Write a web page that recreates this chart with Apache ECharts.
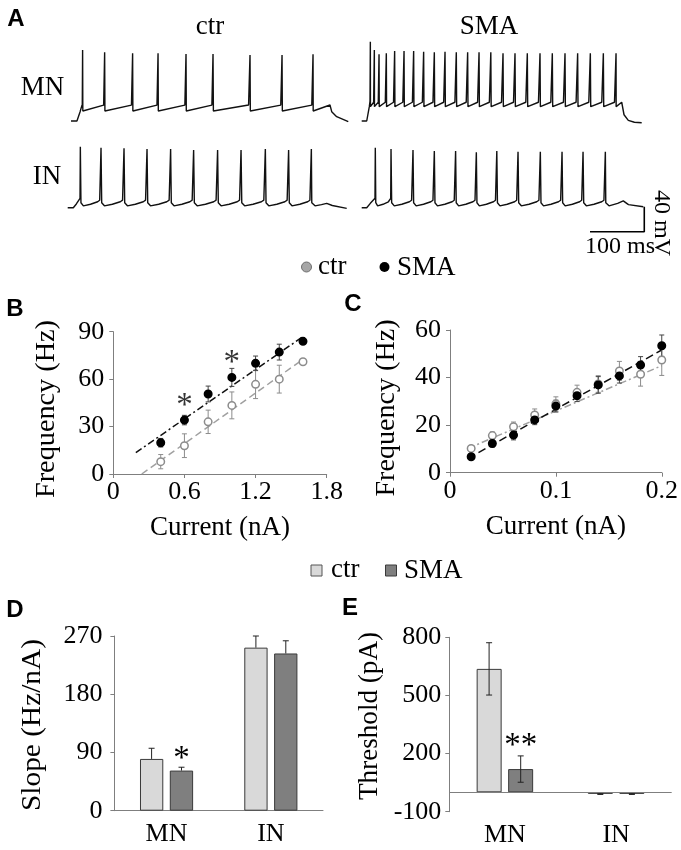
<!DOCTYPE html>
<html>
<head>
<meta charset="utf-8">
<script src="https://cdn.jsdelivr.net/npm/echarts@6/dist/echarts.min.js"></script>
<style>
html, body { margin: 0; padding: 0; background: #fff; }
#chart { width: 681px; height: 850px; }
</style>
</head>
<body>
<div id="chart"></div>
<script>
// ---- A: spike times (ms from trace start) and peak levels (mV)
var mnCtrSpikes = [20.9, 61.7, 113.5, 160.6, 212.4, 262.4, 330.9, 390.2, 447.6];
var mnCtrPeaks = [43.6, 39.9, 38.3, 38.3, 37.2, 37.2, 35.6, 35.6, 36.7];
var mnSmaSpikes = [15.4, 22.8, 31.5, 45, 60.4, 77.8, 95.6, 114.1, 133.9, 153.7, 174.6, 195.6,
                   216.7, 238.5, 261.1, 283.3, 306.1, 329.6, 352.4, 375.9, 399.3, 422.8, 446.9, 470.4];
var mnSmaPeaks = [56.9, 43.6, 36.7, 38.3, 42, 42, 42, 40.9, 39.9, 40.9, 39.9, 39.9,
                  39.9, 39.9, 38.3, 38.3, 38.3, 38.3, 38.3, 38.3, 38.3, 38.3, 38.3, 38.3];
var inCtrSpikes = [22.8, 61.1, 103.7, 146.3, 190, 232.6, 277, 320.4, 365.4, 408.5, 450.6];
var inCtrPeaks = [27.6, 26, 25, 23.9, 23.9, 22.3, 22.3, 22.3, 23.9, 22.3, 23.9];
var inSmaSpikes = [24.6, 53.7, 94.4, 133.9, 173.3, 211.7, 249.6, 288.9, 330.2, 370.4, 409.3, 450.6];
var inSmaPeaks = [26, 23.9, 22.3, 20.7, 20.7, 18.6, 20.7, 19.6, 19.6, 19.6, 19.6, 19.6];

// onset / offset pieces of each trace [ms, mV]
var mnCtrStart = [[0, -70], [11, -70], [16.7, -55.6]];
var mnCtrEnd = [[448.5, -54], [479.6, -44.4], [482.8, -55.1], [492, -63.1], [513.5, -71.1], [514.8, -71]];
var mnSmaStart = [[0, -70], [9.3, -70], [14.1, -47]];
var mnSmaEnd = [[471.2, -47], [481.5, -40], [485.8, -60], [493.7, -69], [505, -72], [518.5, -72.7]];
var inCtrStart = [[0, -70], [10.4, -70], [16, -64]];
var inCtrEnd = [[452, -62], [458, -67], [470, -65], [479.6, -63], [490, -66.5], [516.7, -71]];
var inSmaStart = [[0, -70], [9.3, -70], [16, -63]];
var inSmaEnd = [[452, -62], [458, -67], [474, -63], [484.4, -59], [494, -65], [521.5, -68.4]];

// inter-spike shape: [fraction of interval, mV]
var mnCtrShape = { pre: -43, isi: [[0.01, -54], [0.97, -44.5]] };
var mnSmaShape = { pre: -38, isi: [[0.03, -47], [0.9, -40]] };
var inShape = { pre: -55, isi: [[0.03, -62], [0.15, -67], [0.5, -64.5], [0.85, -60.5], [0.95, -58]] };

// scale bar: corner [ms, mV], 100 ms x 40 mV
var scaleBar = [[422.8, -108.4], [523.3, -108.4], [523.3, -68.4]];

// ---- B: motoneurons f-I
var bX = [0.4, 0.6, 0.8, 1.0, 1.2, 1.4, 1.6];
var bCtr = [7.8, 17.9, 33, 43.4, 56.7, 60, 71];
var bCtrErr = [4.5, 7.5, 7.4, 8.5, 9, 8.8, 0];
var bSma = [19.8, 34.1, 50.6, 61.1, 70, 77.1, 83.9];
var bSmaErr = [2.7, 3, 5, 5.7, 4.6, 5, 0];
var bFitCtr = [[0.24, 0], [1.59, 72]];
var bFitSma = [[0.19, 13.5], [1.59, 86.4]];
var bStars = [[0.6, 46.5], [1.0, 74]];

// ---- C: interneurons f-I
var cX = [0.02, 0.04, 0.06, 0.08, 0.10, 0.12, 0.14, 0.16, 0.18, 0.20];
var cCtr = [10.2, 15.6, 19.3, 24.3, 28.9, 33.8, 37.3, 42.8, 41.4, 47.4];
var cCtrErr = [1, 1.5, 2, 2.5, 3, 3, 3.5, 4, 5, 6.5];
var cSma = [6.7, 12.3, 15.8, 22.2, 28, 32.4, 36.9, 40.7, 45.3, 53.4];
var cSmaErr = [1, 1.5, 2, 2, 2.5, 2.5, 3.5, 3, 3.5, 4.5];
var cFitCtr = [[0.017, 10.2], [0.2, 45]];
var cFitSma = [[0.017, 6], [0.2, 51.6]];

// ---- D / E: bars
var cellCats = ['MN', 'IN'];
var dCtr = [80, 252];
var dCtrErr = [16.5, 18];
var dSma = [62, 243];
var dSmaErr = [5.2, 19.6];
var dStars = ['*', ''];
var eCtr = [637, -8];
var eCtrErr = [135, 3];
var eSma = [120, -8];
var eSmaErr = [68, 3];
var eStars = ['**', ''];

var serif = 'Liberation Serif';
var axisGray = '#7f7f7f';
var lightBar = '#d9d9d9';
var darkBar = '#7f7f7f';

function buildTrace(start, spikes, peaks, shape, end) {
    var pts = start.slice();
    spikes.forEach(function (t, i) {
        pts.push([t, shape.pre], [t + 0.6, peaks[i]]);
        if (i + 1 < spikes.length) {
            var gap = spikes[i + 1] - t;
            shape.isi.forEach(function (p) {
                pts.push([t + 0.6 + p[0] * (gap - 0.6), p[1]]);
            });
        }
    });
    return pts.concat(end);
}

function pairs(xs, ys) {
    return xs.map(function (x, i) { return [x, ys[i]]; });
}
function triples(xs, ys, es) {
    return xs.map(function (x, i) { return [x, ys[i], es[i]]; });
}

function errorBars(offset, cap, twoSided, color) {
    return function (params, api) {
        var e = api.value(2);
        if (!e) { return; }
        var x = api.value(0), y = api.value(1);
        var top = api.coord([x, y + e]);
        var bot = api.coord([x, twoSided ? y - e : y]);
        var cx = top[0] + offset;
        var st = { stroke: color, lineWidth: 1 };
        var kids = [
            { type: 'line', shape: { x1: cx, y1: top[1], x2: cx, y2: bot[1] }, style: st },
            { type: 'line', shape: { x1: cx - cap, y1: top[1], x2: cx + cap, y2: top[1] }, style: st }
        ];
        if (twoSided) {
            kids.push({ type: 'line', shape: { x1: cx - cap, y1: bot[1], x2: cx + cap, y2: bot[1] }, style: st });
        }
        return { type: 'group', children: kids };
    };
}

function traceAxes(n) {
    var xs = [], ys = [];
    var yRanges = [[-80, 60], [-80, 60], [-115, 60], [-115, 60]];
    for (var i = 0; i < n; i++) {
        xs.push({ gridIndex: i, type: 'value', min: 0, max: 540, show: false });
        ys.push({ gridIndex: i, type: 'value', min: yRanges[i][0], max: yRanges[i][1], show: false });
    }
    return { x: xs, y: ys };
}

function valueAxis(grid, min, max, interval, name, gap, labelMargin) {
    return {
        gridIndex: grid, type: 'value', min: min, max: max, interval: interval,
        name: name, nameLocation: 'middle', nameGap: gap,
        nameTextStyle: { fontFamily: serif, fontSize: 27, color: '#000' },
        axisLine: { show: true, onZero: false, lineStyle: { color: axisGray, width: 1 } },
        axisTick: { show: true, inside: false, length: 4, lineStyle: { color: axisGray } },
        axisLabel: { fontFamily: serif, fontSize: 26, color: '#000', margin: labelMargin },
        splitLine: { show: false }
    };
}

function catAxis(grid, showLine) {
    return {
        gridIndex: grid, type: 'category', data: cellCats,
        axisLine: { show: showLine, onZero: false, lineStyle: { color: axisGray, width: 1 } },
        axisTick: { show: false },
        axisLabel: { fontFamily: serif, fontSize: 26, color: '#000', margin: 10 },
        splitLine: { show: false }
    };
}

var ta = traceAxes(4);
var traceStyle = { color: '#111', width: 1.4 };

function traceSeries(idx, data) {
    return {
        type: 'line', xAxisIndex: idx, yAxisIndex: idx, data: data,
        symbol: 'none', clip: false, silent: true, lineStyle: traceStyle, z: 2
    };
}

function fitLine(axis, data, color, dash) {
    return {
        type: 'line', xAxisIndex: axis, yAxisIndex: axis, data: data, symbol: 'none', silent: true,
        lineStyle: { color: color, width: 1.5, type: dash }, z: 2
    };
}

function dots(axis, data, fill, border) {
    return {
        type: 'scatter', xAxisIndex: axis, yAxisIndex: axis, data: data, symbol: 'circle', symbolSize: 7.5,
        itemStyle: { color: fill, borderColor: border, borderWidth: 1.5, opacity: 1 }, z: 5, silent: true
    };
}

function errSeries(axis, data, offset, cap, twoSided, color) {
    return {
        type: 'custom', xAxisIndex: axis, yAxisIndex: axis, data: data, silent: true, z: 4,
        renderItem: errorBars(offset, cap, twoSided, color)
    };
}

function barSeries(axis, values, color, width, gap, stars, starGap) {
    return {
        type: 'bar', xAxisIndex: axis, yAxisIndex: axis, barWidth: width, barGap: gap, silent: true, z: 3,
        itemStyle: { color: color, borderColor: '#3a3a3a', borderWidth: 1 },
        data: values.map(function (v, i) {
            var item = { value: v };
            if (stars && stars[i]) {
                item.label = {
                    show: true, position: 'top', distance: starGap, formatter: stars[i],
                    fontFamily: serif, fontSize: 33, color: '#000'
                };
            }
            return item;
        })
    };
}

var fLbl = '27px "Liberation Serif"';
var fPanel = 'bold 24px "Liberation Sans"';
var measureCtx = document.createElement('canvas').getContext('2d');

function txt(x, y, text, font, align, rot) {
    return {
        type: 'text', x: x, y: y, rotation: rot || 0, silent: true,
        style: { text: text, font: font, fill: '#000', textAlign: align || 'center', textVerticalAlign: 'middle' }
    };
}
// rotated y-axis title stretched to the length it has in the figure
function yTitle(x, y, text, len) {
    measureCtx.font = fLbl;
    var el = txt(x, y, text, fLbl, 'center', Math.PI / 2);
    el.scaleX = len / measureCtx.measureText(text).width;
    return el;
}

var option = {
    animation: false,
    backgroundColor: '#fff',
    textStyle: { fontFamily: serif },
    grid: [
        { left: 71, top: 39.75, width: 291.6, height: 87.5 },
        { left: 361.7, top: 39.75, width: 291.6, height: 87.5 },
        { left: 67.7, top: 126.45, width: 291.6, height: 109.375 },
        { left: 361.7, top: 126.45, width: 291.6, height: 109.375 },
        { left: 113.3, top: 331.7, width: 213.4, height: 142.3 },
        { left: 450, top: 330, width: 214, height: 142.7 },
        { left: 114.4, top: 636, width: 208.6, height: 174.7 },
        { left: 449.3, top: 637.3, width: 222.4, height: 174.4 }
    ],
    xAxis: ta.x.concat([
        valueAxis(4, 0, 1.8, 0.6, 'Current (nA)', 40, 5),
        valueAxis(5, 0, 0.2, 0.1, 'Current (nA)', 41, 5),
        catAxis(6, true),
        catAxis(7, false)
    ]),
    yAxis: ta.y.concat([
        valueAxis(4, 0, 90, 30, '', 0, 9),
        valueAxis(5, 0, 60, 20, '', 0, 9),
        valueAxis(6, 0, 270, 90, '', 0, 12),
        valueAxis(7, -100, 800, 300, '', 0, 8)
    ]),
    series: [
        traceSeries(0, buildTrace(mnCtrStart, mnCtrSpikes, mnCtrPeaks, mnCtrShape, mnCtrEnd)),
        traceSeries(1, buildTrace(mnSmaStart, mnSmaSpikes, mnSmaPeaks, mnSmaShape, mnSmaEnd)),
        traceSeries(2, buildTrace(inCtrStart, inCtrSpikes, inCtrPeaks, inShape, inCtrEnd)),
        traceSeries(3, buildTrace(inSmaStart, inSmaSpikes, inSmaPeaks, inShape, inSmaEnd)),
        {
            type: 'line', xAxisIndex: 3, yAxisIndex: 3, data: scaleBar, symbol: 'none', clip: false,
            silent: true, lineStyle: { color: '#000', width: 1.6 }
        },

        // B
        fitLine(4, bFitCtr, '#a0a0a0', [7, 4]),
        fitLine(4, bFitSma, '#111', [7, 3, 2, 3]),
        errSeries(4, triples(bX, bCtr, bCtrErr), 0, 2.5, true, '#8c8c8c'),
        errSeries(4, triples(bX, bSma, bSmaErr), 0, 2.5, true, '#444'),
        dots(4, pairs(bX, bCtr), '#fff', '#8c8c8c'),
        dots(4, pairs(bX, bSma), '#000', '#000'),
        {
            type: 'scatter', xAxisIndex: 4, yAxisIndex: 4, data: bStars, symbolSize: 0, silent: true,
            label: { show: true, position: 'inside', offset: [0, 6], formatter: '*', fontFamily: serif, fontSize: 33, color: '#000' }
        },

        // C
        fitLine(5, cFitCtr, '#a0a0a0', [7, 3, 2, 3]),
        fitLine(5, cFitSma, '#111', [8, 4]),
        errSeries(5, triples(cX, cCtr, cCtrErr), 0, 2.5, true, '#8c8c8c'),
        errSeries(5, triples(cX, cSma, cSmaErr), 0, 2.5, true, '#444'),
        dots(5, pairs(cX, cCtr), '#fff', '#8c8c8c'),
        dots(5, pairs(cX, cSma), '#000', '#000'),

        // D
        barSeries(6, dCtr, lightBar, 23.3, '28%'),
        barSeries(6, dSma, darkBar, 23.3, '28%', dStars, -5),
        errSeries(6, triples([0, 1], dCtr, dCtrErr), -14.95, 3, false, '#222'),
        errSeries(6, triples([0, 1], dSma, dSmaErr), 14.95, 3, false, '#222'),

        // E
        (function () {
            var s = barSeries(7, eCtr, lightBar, 25, '26%');
            s.markLine = {
                silent: true, symbol: 'none', label: { show: false },
                lineStyle: { color: axisGray, type: 'solid', width: 1 },
                data: [{ yAxis: 0 }]
            };
            return s;
        })(),
        barSeries(7, eSma, darkBar, 25, '26%', eStars, 6),
        errSeries(7, triples([0, 1], eCtr, eCtrErr), -15.8, 3, true, '#222'),
        errSeries(7, triples([0, 1], eSma, eSmaErr), 15.8, 3, true, '#222')
    ],
    graphic: [
        txt(16, 19, 'A', fPanel),
        txt(15, 309, 'B', fPanel),
        txt(353, 304, 'C', fPanel),
        txt(15, 610, 'D', fPanel),
        txt(350, 608, 'E', fPanel),

        txt(210, 27, 'ctr', fLbl),
        txt(489, 27, 'SMA', fLbl),
        txt(42.5, 88, 'MN', fLbl),
        txt(47, 177, 'IN', fLbl),
        txt(620, 247, '100 ms', '24px "Liberation Serif"'),
        txt(661, 223, '40 mV', '24px "Liberation Serif"', 'center', -Math.PI / 2),

        yTitle(47, 409, 'Frequency (Hz)', 178),
        yTitle(387, 408, 'Frequency (Hz)', 177),
        yTitle(32.5, 725, 'Slope (Hz/nA)', 172),
        yTitle(370, 716, 'Threshold (pA)', 168),

        { type: 'circle', shape: { cx: 306.5, cy: 267, r: 5 }, style: { fill: '#a6a6a6', stroke: '#6e6e6e', lineWidth: 1 }, silent: true },
        txt(318, 267, 'ctr', fLbl, 'left'),
        { type: 'circle', shape: { cx: 384.5, cy: 267, r: 5 }, style: { fill: '#000' }, silent: true },
        txt(397, 268, 'SMA', fLbl, 'left'),

        { type: 'rect', shape: { x: 311, y: 565, width: 11, height: 11 }, style: { fill: lightBar, stroke: '#555', lineWidth: 1 }, silent: true },
        txt(331, 570, 'ctr', fLbl, 'left'),
        { type: 'rect', shape: { x: 385.5, y: 565, width: 11, height: 11 }, style: { fill: darkBar, stroke: '#3a3a3a', lineWidth: 1 }, silent: true },
        txt(404, 571, 'SMA', fLbl, 'left')
    ]
};

var chart = echarts.init(document.getElementById('chart'), null, { renderer: 'canvas' });
chart.setOption(option);
</script>
</body>
</html>
